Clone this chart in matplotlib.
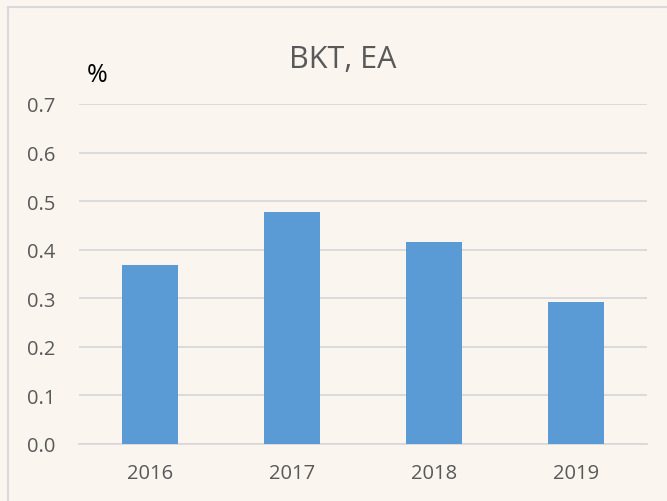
import matplotlib
matplotlib.use("Agg")
import matplotlib.pyplot as plt
from matplotlib.patches import Rectangle

years = ["2016", "2017", "2018", "2019"]
values = [0.369, 0.478, 0.416, 0.292]
yticks = [0.0, 0.1, 0.2, 0.3, 0.4, 0.5, 0.6, 0.7]

plt.rcParams['font.family'] = ['Open Sans', 'DejaVu Sans']
bg = "#FAF5EF"
fig = plt.figure(figsize=(6.67, 5.02), dpi=100, facecolor=bg)
fig.patches.append(Rectangle((8/667, -0.1), 1.2, 1 - 8/502 + 0.1, transform=fig.transFigure,
                             fill=False, edgecolor="#D9D9D9", linewidth=1.5))
ax = fig.add_axes([79/667, 1 - 445/502, 568/667, 340/502])
ax.set_facecolor(bg)
x = range(len(years))
ax.bar(x, values, width=0.4, color="#5B9BD5", zorder=3)
ax.set_xlim(-0.5, 3.5)
ax.set_ylim(0, 0.7)
ax.set_yticks(yticks)
ax.set_yticklabels([f"{v:.1f}" for v in yticks])
ax.set_xticks(list(x))
ax.set_xticklabels(years)
ax.grid(axis="y", color="#D9D9D9", linewidth=1.3, zorder=0)
for s in ["top", "right", "left"]:
    ax.spines[s].set_visible(False)
ax.spines["bottom"].set_color("#D9D9D9")
ax.spines["bottom"].set_linewidth(1.3)
ax.tick_params(axis="both", length=0, labelsize=14.5, labelcolor="#595959")
ax.tick_params(axis="y", pad=17)
ax.tick_params(axis="x", pad=14)
fig.text(343/667, 1 - 68/502, "BKT, EA", ha="center", va="baseline", fontsize=22, color="#595959")
fig.text(97/667, 1 - 82/502, "%", ha="center", va="baseline", fontsize=18, color="black")
fig.savefig("out.png", dpi=100, facecolor=bg)
